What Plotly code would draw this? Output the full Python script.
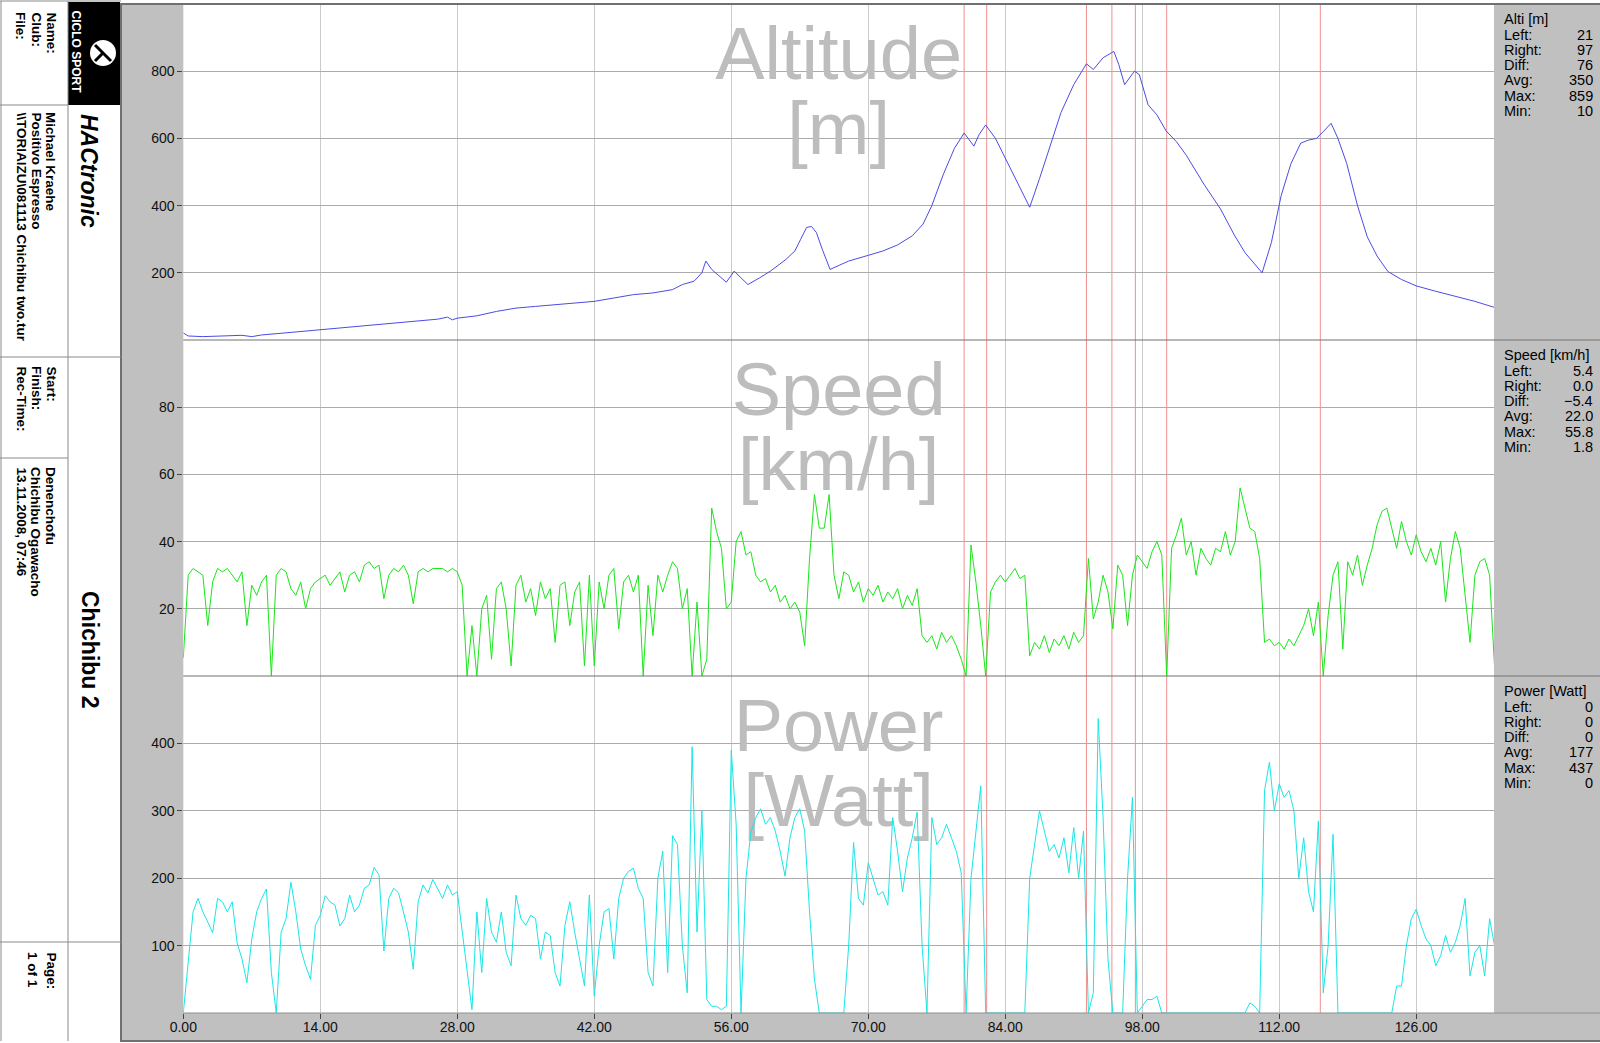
import plotly.graph_objects as go

W, H = 1600, 1043
def px(x): return x / W
def py(y): return 1 - y / H

FONT = "Liberation Sans, Arial, sans-serif"

# ---------------- data ----------------
alt_km = [0, 0.5, 2, 4, 6, 7, 8, 10, 12, 14, 16, 18, 20, 22, 24, 26, 27, 27.5, 28, 30, 32, 34, 36, 38,
          40, 42, 44, 46, 48, 50, 51, 52.2, 53, 53.4, 54, 55, 55.5, 56.3, 57, 57.7, 58.9, 60, 61.6,
          62.5, 63.1, 63.7, 64.2, 64.7, 65.3, 66.1, 67, 68, 70, 71.5, 73, 74.5, 75.6, 76.5, 77.7,
          78.8, 79.8, 80.8, 81.3, 82, 83, 84, 85, 86.5, 87.5, 88.5, 89.7, 91, 92.3, 93, 94, 94.7,
          95.1, 95.6, 96.2, 97.2, 97.7, 98.6, 99.5, 100.45, 101.5, 102.5, 104.3, 106, 107.4, 108.5,
          110.25, 111.2, 112.2, 113.2, 114.2, 115, 115.8, 116.5, 117.3, 118, 118.9, 120, 121, 122,
          123.1, 124.5, 126, 128, 129.8, 132, 134]
alt_m = [21, 12, 10, 12, 14, 10, 15, 20, 25, 30, 35, 40, 45, 50, 55, 62, 68, 60, 65, 72, 85, 95, 100, 105,
         112, 115, 125, 135, 140, 150, 165, 175, 200, 235, 210, 185, 172, 205, 185, 165, 185, 205, 240,
         265, 300, 335, 338, 320, 270, 210, 222, 235, 252, 265, 283, 310, 345, 400, 495,
         570, 616, 577, 610, 640, 600, 540, 480, 395, 480, 570, 677, 760, 822, 805, 840, 852,
         859, 820, 760, 800, 790, 700, 670, 622, 590, 550, 464, 390, 313, 260,
         200, 290, 430, 525, 586, 595, 600, 620, 645, 600, 525, 400, 307, 250,
         204, 180, 161, 145, 131, 115, 97]

SAMPLE_STEP_KM = 0.5
speed_kmh = [
    5.4, 30, 32, 31, 30, 15, 28, 32, 31, 32, 30, 28, 31, 15, 27, 24, 28, 30, 0, 30, 32, 31, 26, 24, 28, 20, 26, 28, 29,
    30, 27, 29, 31, 25, 30, 31, 28, 33, 34, 32, 33, 23, 30, 32, 31, 33, 30, 21.5, 31, 32, 31, 32, 32, 32, 31, 32, 31,
    27, 0, 15, 0, 20, 24, 5, 26, 28, 20, 3, 27, 30, 22, 26, 18, 28, 23, 26, 10, 27, 28, 15, 25, 28, 3, 30, 3,
    28, 20, 30, 32, 14, 28, 30, 25, 30, 0, 27, 12, 30, 25, 30, 34, 32, 20, 26, 0, 22, 0, 5, 50, 43, 38, 20, 22,
    40, 43, 36, 37, 30, 28, 29, 25, 27, 22, 24, 20, 22, 19, 9, 35, 54, 44, 44, 54, 30, 23, 31, 30, 25, 28, 22, 26,
    24, 27, 22, 25, 23, 26, 20, 24, 21, 26, 12, 10, 12, 8, 13, 10, 12, 9, 5, 0, 39, 28, 15, 0, 25, 28, 30, 28,
    30, 32, 29, 30, 6, 10, 8, 12, 7, 11, 9, 12, 8, 13, 10, 12, 35, 17, 22, 30, 25, 14, 33, 30, 15, 30, 36, 34,
    32, 37, 40, 36, 0, 38, 42, 47, 36, 40, 30, 38, 35, 33, 38, 37, 43, 36, 40, 56, 50, 44, 43, 35, 10, 11, 9, 10,
    8, 11, 9, 12, 15, 20, 12, 22, 0, 18, 30, 34, 8, 34, 30, 36, 27, 33, 38, 45, 49, 50, 44, 38, 46, 40, 36, 42,
    37, 34, 38, 33, 40, 22, 35, 43, 38, 25, 10, 30, 34, 35, 30, 3,
]
power_watt = [
    0, 80, 150, 170, 150, 135, 119, 170, 165, 150, 165, 104, 80, 45, 110, 150, 170, 184, 60, 0, 120, 140, 194, 150, 95, 70, 50, 130, 145,
    174, 165, 160, 129, 140, 175, 150, 160, 185, 190, 216, 205, 92, 170, 185, 178, 150, 120, 65, 165, 190, 178, 198, 185, 170, 190, 175, 180,
    120, 65, 5, 150, 60, 170, 120, 105, 150, 90, 70, 175, 140, 130, 145, 140, 80, 120, 115, 60, 40, 130, 165, 120, 80, 40, 175, 25,
    100, 150, 155, 80, 170, 200, 210, 215, 185, 170, 60, 40, 200, 240, 60, 263, 250, 100, 30, 395, 120, 300, 20, 10, 10, 5, 10, 390,
    280, 0, 200, 268, 290, 303, 280, 290, 270, 240, 203, 260, 290, 303, 270, 150, 50, 0, 0, 0, 0, 0, 0, 100, 253, 170, 160, 223,
    200, 175, 180, 160, 290, 240, 180, 230, 260, 298, 100, 0, 290, 250, 260, 280, 260, 240, 208, 0, 200, 268, 337, 0, 0, 0, 0, 0,
    0, 0, 0, 0, 200, 253, 300, 270, 240, 250, 230, 260, 208, 275, 200, 270, 0, 30, 437, 290, 80, 0, 0, 0, 200, 320, 0, 10,
    20, 20, 25, 0, 0, 0, 0, 0, 0, 0, 0, 0, 0, 0, 0, 0, 0, 0, 0, 0, 0, 15, 10, 0, 330, 372, 300, 340,
    320, 330, 300, 200, 260, 180, 150, 285, 30, 100, 265, 0, 0, 0, 0, 0, 0, 0, 0, 0, 0, 0, 0, 40, 40, 100, 140, 154,
    130, 110, 100, 70, 85, 115, 90, 105, 130, 170, 55, 90, 100, 55, 140, 100,
]
sample_km = [i * SAMPLE_STEP_KM for i in range(len(speed_kmh))]

lap_km = [79.8, 82.1, 92.3, 94.9, 97.3, 100.5, 116.2]
x_tick_vals = [0, 14, 28, 42, 56, 70, 84, 98, 112, 126]

panel_titles = [("Altitude", "[m]"), ("Speed", "[km/h]"), ("Power", "[Watt]")]
stat_labels = ["Left:", "Right:", "Diff:", "Avg:", "Max:", "Min:"]
stat_headers = ["Alti [m]", "Speed [km/h]", "Power [Watt]"]
alt_stats = ["21", "97", "76", "350", "859", "10"]
speed_stats = ["5.4", "0.0", "\u22125.4", "22.0", "55.8", "1.8"]
power_stats = ["0", "0", "0", "177", "437", "0"]

info_labels_1 = ["Name:", "Club:", "File:"]
info_values_1 = ["Michael Kraehe", "Positivo Espresso", "\\\\TORIAIZU\\081113 Chichibu two.tur"]
info_labels_2 = ["Start:", "Finish:", "Rec-Time:"]
info_values_2 = ["Denenchofu", "Chichibu Ogawacho", "13.11.2008, 07:46"]
tour_name = "Chichibu 2"
device_name = "HACtronic"

# ---------------- layout geometry ----------------
X_MAX = 133.95
PLOT_L, PLOT_R = 183.3, 1494
panel_px = [(4, 340), (340, 676), (676, 1013)]
y_ranges = [(0, 1000), (0, 100), (0, 500)]
y_ticks = [[200, 400, 600, 800], [20, 40, 60, 80], [100, 200, 300, 400]]
colors = ["#4B4BE6", "#19E619", "#19E6E6"]

fig = go.Figure()

for i, (l1, l2) in enumerate(panel_titles):
    lo, hi = y_ranges[i]
    top, bot = panel_px[i]
    hpx = bot - top
    for txt, off in ((l1, 56), (l2, 131)):
        yv = hi - off / hpx * (hi - lo)
        fig.add_trace(go.Scatter(
            x=[X_MAX / 2], y=[yv], mode="text", text=[txt],
            textposition="middle center",
            textfont=dict(size=74, color="#BDBDBD", family=FONT),
            xaxis="x" if i == 0 else f"x{i+1}", yaxis="y" if i == 0 else f"y{i+1}",
            hoverinfo="skip", showlegend=False))

fig.add_trace(go.Scatter(x=alt_km, y=alt_m, mode="lines", line=dict(color=colors[0], width=1),
                         xaxis="x", yaxis="y", showlegend=False))
fig.add_trace(go.Scatter(x=sample_km, y=speed_kmh, mode="lines", line=dict(color=colors[1], width=1),
                         xaxis="x2", yaxis="y2", showlegend=False))
fig.add_trace(go.Scatter(x=sample_km, y=power_watt, mode="lines", line=dict(color=colors[2], width=1),
                         xaxis="x3", yaxis="y3", showlegend=False))

layout = dict(
    width=W, height=H, margin=dict(l=0, r=0, t=0, b=0, pad=0, autoexpand=False),
    paper_bgcolor="white", plot_bgcolor="white", showlegend=False,
    font=dict(family=FONT, color="#111111", size=13),
)
for i in range(3):
    top, bot = panel_px[i]
    sx = "" if i == 0 else str(i + 1)
    layout["xaxis" + sx] = dict(
        domain=[px(PLOT_L), px(PLOT_R)], range=[0, X_MAX], anchor="y" + sx,
        tickvals=x_tick_vals, showgrid=True, gridcolor="#CACACA", gridwidth=1,
        zeroline=False, showline=False, fixedrange=True, automargin=False,
        showticklabels=(i == 2), tickformat=".2f",
        ticks="outside" if i == 2 else "", ticklen=5, tickcolor="#444444",
        ticklabelstandoff=-4,
        tickfont=dict(size=14, color="#111111"))
    layout["yaxis" + sx] = dict(
        domain=[py(bot), py(top)], range=list(y_ranges[i]), anchor="x" + sx,
        tickvals=y_ticks[i], showgrid=True, gridcolor="#ABABAB", gridwidth=1,
        zeroline=False, showline=False, fixedrange=True, automargin=False,
        ticks="outside", ticklen=5, tickcolor="#444444",
        tickfont=dict(size=14, color="#111111"))

shapes = []
GRAY = "#C0C0C0"
def rect(x0, y0, x1, y1, fill, layer="below"):
    shapes.append(dict(type="rect", xref="paper", yref="paper",
                       x0=px(x0), x1=px(x1), y0=py(y1), y1=py(y0),
                       fillcolor=fill, line=dict(width=0), layer=layer))
def seg(x0, y0, x1, y1, color="#808080", width=1, layer="above"):
    shapes.append(dict(type="line", xref="paper", yref="paper",
                       x0=px(x0), x1=px(x1), y0=py(y0), y1=py(y1),
                       line=dict(color=color, width=width), layer=layer))

rect(121, 4, PLOT_L, 1041, GRAY)
rect(121, 1013, 1600, 1041, GRAY)
rect(PLOT_R, 4, 1600, 1013, GRAY)
seg(120, 4, 1600, 4, "#707070", 2)
seg(121, 4, 121, 1041, "#707070", 2)
seg(120, 1041, 1600, 1041, "#707070", 2)
seg(PLOT_L, 340, 1600, 340, "#707070", 1)
seg(PLOT_L, 676, 1600, 676, "#707070", 1)
seg(PLOT_L, 1013, 1600, 1013, "#909090", 1)

for i in range(3):
    sx = "" if i == 0 else str(i + 1)
    for k in lap_km:
        shapes.append(dict(type="line", xref="x" + sx, yref="y" + sx,
                           x0=k, x1=k, y0=y_ranges[i][0], y1=y_ranges[i][1],
                           line=dict(color="rgba(230,70,70,0.6)", width=1), layer="below"))

rect(68, 2, 120, 105, "black", layer="above")
seg(1, 1, 1, 1041, "#8A8A8A", 1)
seg(0, 1, 121, 1, "#8A8A8A", 1)
seg(68, 1, 68, 1041, "#8A8A8A", 1)
seg(0, 105, 68, 105, "#8A8A8A", 1)
seg(0, 357, 121, 357, "#8A8A8A", 1)
seg(0, 458, 68, 458, "#8A8A8A", 1)
seg(0, 942, 121, 942, "#8A8A8A", 1)
shapes.append(dict(type="circle", xref="paper", yref="paper",
                   x0=px(90), x1=px(116), y0=py(66), y1=py(40),
                   fillcolor="white", line=dict(width=0), layer="above"))
seg(95, 45, 111, 61, "black", 3)
seg(95, 61, 103, 53, "black", 3)
layout["shapes"] = shapes

ann = []
def text(x, y, s, size=13, color="#000000", angle=90, xa="center", ya="top", bold=False, italic=False):
    t = s
    if bold:
        t = "<b>" + t + "</b>"
    if italic:
        t = "<i>" + t + "</i>"
    ann.append(dict(x=px(x), y=py(y), xref="paper", yref="paper", text=t, showarrow=False,
                    textangle=angle, xanchor=xa, yanchor=ya,
                    font=dict(size=size, color=color, family=FONT)))

col_x = [51, 36, 21]
for j in range(3):
    text(col_x[j], 10, info_labels_1[j], size=13.5, bold=True)
    text(col_x[j], 110, info_values_1[j], size=13.5, bold=True)
    text(col_x[j], 364, info_labels_2[j], size=13.5, bold=True)
    text(col_x[j], 465, info_values_2[j], size=13.5, bold=True)
text(51, 950, "Page:", size=13.5, bold=True)
text(33, 950, "1 of 1", size=13.5, bold=True)
text(89, 112, device_name, size=23, bold=True, italic=True)
text(90, 650, tour_name, size=23, bold=True, ya="middle")
text(76, 8, "CICLO SPORT", size=12, color="white", bold=True)

all_stats = [alt_stats, speed_stats, power_stats]
for i in range(3):
    top = panel_px[i][0]
    text(1502, top + 15, stat_headers[i], size=14.5, angle=0, xa="left", ya="middle")
    for r in range(6):
        yy = top + 30.5 + r * 15.3
        text(1502, yy, stat_labels[r], size=14.5, angle=0, xa="left", ya="middle")
        text(1595, yy, all_stats[i][r], size=14.5, angle=0, xa="right", ya="middle")
layout["annotations"] = ann

fig.update_layout(**layout)
fig.write_html("out.html", include_plotlyjs=True, full_html=True,
               config={"displayModeBar": False},
               post_script="document.body.style.margin='0';document.body.style.overflow='hidden';")
